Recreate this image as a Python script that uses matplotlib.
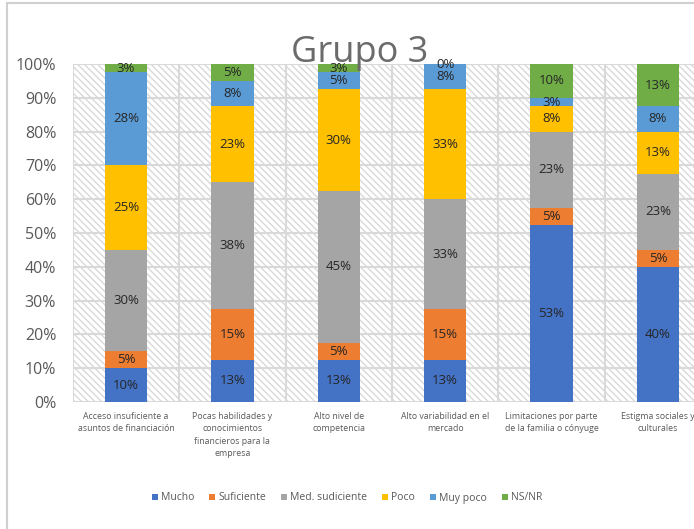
import matplotlib
matplotlib.use("Agg")
import matplotlib.pyplot as plt
from matplotlib.patches import Patch, Rectangle
import numpy as np

categories = [
    "Acceso insuficiente a\nasuntos de financiación",
    "Pocas habilidades y\nconocimientos\nfinancieros para la\nempresa",
    "Alto nivel de\ncompetencia",
    "Alto variabilidad en el\nmercado",
    "Limitaciones por parte\nde la familia o cónyuge",
    "Estigma sociales y\nculturales",
]
series_names = ["Mucho", "Suficiente", "Med. sudiciente", "Poco", "Muy poco", "NS/NR"]
mucho = [10.0, 12.5, 12.5, 12.5, 52.5, 40.0]
suficiente = [5.0, 15.0, 5.0, 15.0, 5.0, 5.0]
med_suficiente = [30.0, 37.5, 45.0, 32.5, 22.5, 22.5]
poco = [25.0, 22.5, 30.0, 32.5, 7.5, 12.5]
muy_poco = [27.5, 7.5, 5.0, 7.5, 2.5, 7.5]
ns_nr = [2.5, 5.0, 2.5, 0.0, 10.0, 12.5]
colors = ["#4472C4", "#ED7D31", "#A5A5A5", "#FFC000", "#5B9BD5", "#70AD47"]
yticks = [0, 10, 20, 30, 40, 50, 60, 70, 80, 90, 100]
title = "Grupo 3"

series = [mucho, suficiente, med_suficiente, poco, muy_poco, ns_nr]

plt.rcParams['font.family'] = ['Open Sans', 'DejaVu Sans']
plt.rcParams['hatch.color'] = '#d9d9d9'
plt.rcParams['hatch.linewidth'] = 1.0

fig = plt.figure(figsize=(6.94, 5.29), dpi=100)
W, H = 694, 529
left_px, right_px, top_px, bot_px = 72.8, 711.2, 64, 402
ax = fig.add_axes([left_px / W, 1 - bot_px / H, (right_px - left_px) / W, (bot_px - top_px) / H])

# outer chart frame
fig.patches.append(Rectangle((7 / W, -0.1), 1.2, 1.1 - 3 / H, transform=fig.transFigure,
                             fill=False, edgecolor='#d0d0d0', lw=1.5, zorder=0))

# hatched background
ax.add_patch(Rectangle((0, 0), 1, 1, transform=ax.transAxes, facecolor='none',
                       edgecolor='#d9d9d9', lw=0, hatch='\\\\\\\\\\', zorder=0))

x = np.arange(len(categories))
bottom = np.zeros(len(categories))
for name, vals, c in zip(series_names, series, colors):
    vals = np.array(vals)
    ax.bar(x, vals, width=0.4, bottom=bottom, color=c, label=name, zorder=3)
    for xi, b, v in zip(x, bottom, vals):
        ax.text(xi, b + v / 2, f"{int(v + 0.5)}%", ha='center', va='center',
                fontsize=9.5, color='#262626', zorder=4)
    bottom += vals

ax.set_xlim(-0.5, len(categories) - 0.5)
ax.set_ylim(0, 100)
ax.set_yticks(yticks)
ax.set_yticklabels([f"{t}%" for t in yticks], fontsize=11.5, color='#595959')
ax.set_xticks(x)
ax.set_xticklabels(categories, fontsize=6.3, color='#595959', linespacing=1.5)
ax.tick_params(length=0, axis='both')
ax.tick_params(axis='y', pad=12)
ax.tick_params(axis='x', pad=7)

for t in yticks:
    ax.axhline(t, color='#d9d9d9', lw=1.5, zorder=1)
for b in np.arange(-0.5, len(categories), 1.0):
    ax.axvline(b, color='#d9d9d9', lw=1.5, zorder=1)
for s in ax.spines.values():
    s.set_visible(False)

fig.text(360 / W, 1 - 62 / H, title, ha='center', va='baseline', fontsize=26, color='#6b6b6b', zorder=5)

handles = [Patch(facecolor=c, edgecolor='none') for c in colors]
fig.legend(handles, series_names, loc='center', bbox_to_anchor=(347 / W, 1 - 498 / H), ncol=6,
           frameon=False, fontsize=7.5, handlelength=0.6, handleheight=0.6, handletextpad=0.3,
           columnspacing=1.4, labelcolor='#595959')

fig.savefig("out.png", dpi=100)
